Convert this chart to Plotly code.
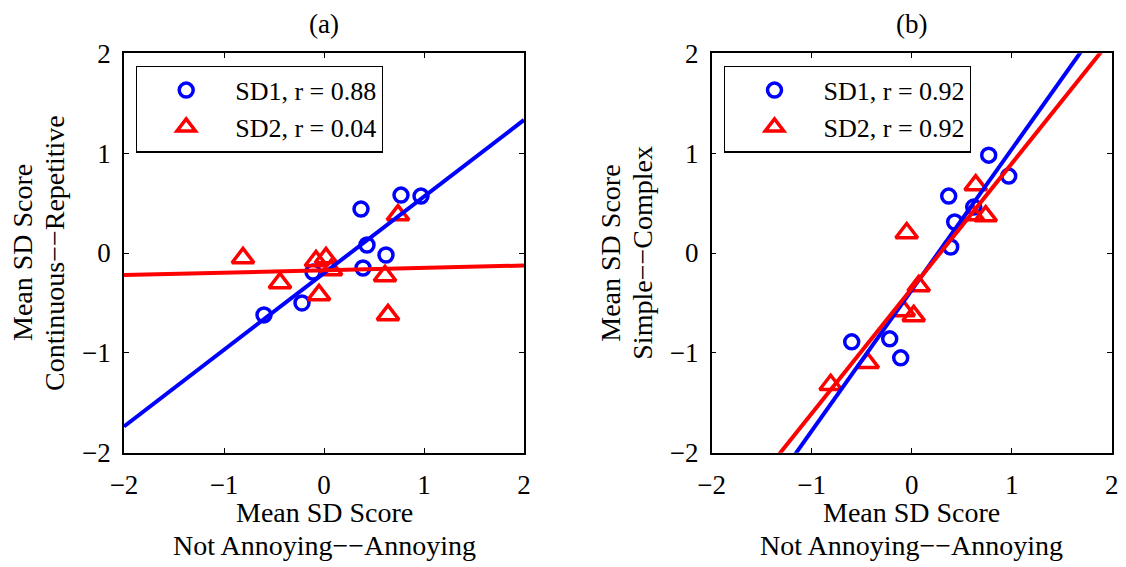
import numpy as np
import plotly.graph_objects as go

# ---- data ----
x_sd1 = [-0.60, -0.22, -0.11, 0.37, 0.43, 0.39, 0.62, 0.77, 0.97]
y_sd1_a = [-0.62, -0.50, -0.19, 0.44, 0.08, -0.15, -0.02, 0.58, 0.57]
y_sd1_b = [-0.89, -0.86, -1.05, 0.57, 0.31, 0.06, 0.46, 0.98, 0.77]

x_sd2 = [-0.81, -0.44, -0.08, 0.02, 0.07, -0.05, 0.61, 0.64, 0.74]
y_sd2_a = [-0.05, -0.30, -0.08, -0.05, -0.17, -0.42, -0.23, -0.62, 0.38]
y_sd2_b = [-1.32, -1.10, -0.58, -0.63, -0.33, 0.20, 0.38, 0.68, 0.37]

labels_a = ["SD1, r = 0.88", "SD2, r = 0.04"]
labels_b = ["SD1, r = 0.92", "SD2, r = 0.92"]
panel_titles = ["(a)", "(b)"]
x_title = ["Mean SD Score", "Not Annoying\u2212\u2212Annoying"]
y_titles = [["Mean SD Score", "Continuous\u2212\u2212Repetitive"],
            ["Mean SD Score", "Simple\u2212\u2212Complex"]]
axis_range = [-2, 2]
tick_vals = [-2, -1, 0, 1, 2]

BLUE = "#0000FF"
RED = "#FF0000"
FONT = "Liberation Serif"
TICK_SIZE = 27
TITLE_SIZE = 28
LEG_SIZE = 26
W, H = 1126, 567

# plot-area pixel boxes
px_a = (124, 524)
px_b = (711.7, 1111.7)
py = (53.3, 452.7)

fig = go.Figure()

panels = [
    ("x", "y", y_sd1_a, y_sd2_a, labels_a, "legend"),
    ("x2", "y2", y_sd1_b, y_sd2_b, labels_b, "legend2"),
]

for xa, ya, ys1, ys2, labs, leg in panels:
    fig.add_trace(go.Scatter(
        x=x_sd1, y=ys1, mode="markers", name=labs[0], legend=leg,
        xaxis=xa, yaxis=ya,
        marker=dict(symbol="circle-open", size=14, color=BLUE,
                    line=dict(width=3.5, color=BLUE))))
    fig.add_trace(go.Scatter(
        x=x_sd2, y=ys2, mode="markers", name=labs[1], legend=leg,
        xaxis=xa, yaxis=ya,
        marker=dict(symbol="triangle-up-open", size=19, color=RED,
                    line=dict(width=3.5, color=RED))))
    for xs, ys, col in ((x_sd1, ys1, BLUE), (x_sd2, ys2, RED)):
        slope, icpt = np.polyfit(xs, ys, 1)
        xl = np.array(axis_range, dtype=float)
        fig.add_trace(go.Scatter(
            x=xl, y=slope * xl + icpt, mode="lines", showlegend=False,
            xaxis=xa, yaxis=ya, line=dict(color=col, width=4)))

axis_common = dict(
    range=axis_range, tickvals=tick_vals, ticks="inside", ticklen=5,
    tickwidth=1.2, tickcolor="black", showline=True, linecolor="black",
    linewidth=1.5, mirror="allticks", showgrid=False, zeroline=False,
    tickfont=dict(family=FONT, size=TICK_SIZE, color="black"),
    fixedrange=True, automargin=False)

ydom = [1 - py[1] / H, 1 - py[0] / H]
leg_common = dict(xanchor="left", yanchor="top", bgcolor="white",
                  bordercolor="black", borderwidth=1.2,
                  font=dict(family=FONT, size=LEG_SIZE, color="black"),
                  itemwidth=88, tracegroupgap=0)
fig.update_layout(
    width=W, height=H, margin=dict(l=0, r=0, t=0, b=0),
    paper_bgcolor="white", plot_bgcolor="white",
    xaxis=dict(domain=[px_a[0] / W, px_a[1] / W], anchor="y",
               ticklabelstandoff=7, **axis_common),
    yaxis=dict(domain=ydom, anchor="x", ticklabelstandoff=6, **axis_common),
    xaxis2=dict(domain=[px_b[0] / W, px_b[1] / W], anchor="y2",
                ticklabelstandoff=7, **axis_common),
    yaxis2=dict(domain=ydom, anchor="x2", ticklabelstandoff=6, **axis_common),
    legend=dict(x=136 / W, y=1 - 65.5 / H, **leg_common),
    legend2=dict(x=724.3 / W, y=1 - 65.5 / H, **leg_common),
    showlegend=True,
)

ann = []
for i, (pxx, ttl) in enumerate(zip((px_a, px_b), panel_titles)):
    cx = (pxx[0] + pxx[1]) / 2 / W
    ann.append(dict(text=ttl, x=cx, y=1 - 24 / H, xref="paper", yref="paper",
                    xanchor="center", yanchor="middle", showarrow=False,
                    font=dict(family=FONT, size=TICK_SIZE, color="black")))
    for line, ypx in zip(x_title, (512, 545)):
        ann.append(dict(text=line, x=cx, y=1 - ypx / H, xref="paper",
                        yref="paper", xanchor="center", yanchor="middle",
                        showarrow=False,
                        font=dict(family=FONT, size=TITLE_SIZE, color="black")))
    cy = 1 - ((py[0] + py[1]) / 2) / H
    for line, off in zip(y_titles[i], (101, 69)):
        ann.append(dict(text=line, x=(pxx[0] - off) / W, y=cy, xref="paper",
                        yref="paper", xanchor="center", yanchor="middle",
                        textangle=-90, showarrow=False,
                        font=dict(family=FONT, size=TITLE_SIZE, color="black")))
fig.update_layout(annotations=ann)

fig.write_html("out.html")
